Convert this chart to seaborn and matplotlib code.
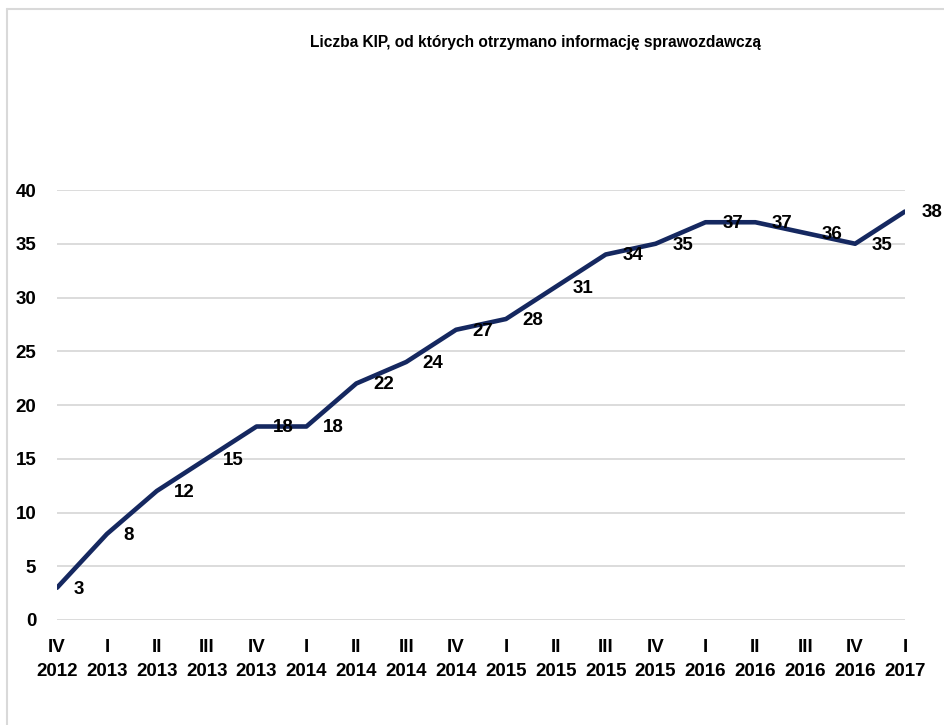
import matplotlib
matplotlib.use("Agg")
import matplotlib.pyplot as plt
import seaborn as sns
import pandas as pd
from matplotlib import font_manager
from matplotlib.lines import Line2D

quarters = ["IV", "I", "II", "III", "IV", "I", "II", "III", "IV", "I", "II", "III", "IV", "I", "II", "III", "IV", "I"]
years = ["2012", "2013", "2013", "2013", "2013", "2014", "2014", "2014", "2014", "2015", "2015", "2015", "2015", "2016", "2016", "2016", "2016", "2017"]
values = [3, 8, 12, 15, 18, 18, 22, 24, 27, 28, 31, 34, 35, 37, 37, 36, 35, 38]
title = "Liczba KIP, od których otrzymano informację sprawozdawczą"

sns.set_theme(style="white")
names = {f.name for f in font_manager.fontManager.ttflist}
fam = "Liberation Sans"
title_fam = "Liberation Sans Narrow" if "Liberation Sans Narrow" in names else "Liberation Sans"
plt.rcParams["font.family"] = [fam, "DejaVu Sans"]

df = pd.DataFrame({"pos": range(len(values)), "value": values,
                   "label": [f"{q}\n{y}" for q, y in zip(quarters, years)]})

fig = plt.figure(figsize=(9.44, 7.25), dpi=100)
ax = fig.add_axes([57/944, 1-620/725, (905-57)/944, (620-190)/725])

color = "#152860"
sns.lineplot(data=df, x="pos", y="value", ax=ax, color=color, linewidth=3.3)

ax.set_xlim(0, len(values)-1)
ax.set_ylim(0, 40)
ax.set_yticks(range(0, 41, 5))
ax.set_xticks(df["pos"])
ax.set_xticklabels(df["label"], linespacing=1.5)
ax.grid(axis="y", color="#D9D9D9", linewidth=1.3)
ax.set_axisbelow(True)
for s in ax.spines.values():
    s.set_visible(False)
ax.tick_params(axis="both", length=0, labelsize=13.5, colors="black")
ax.tick_params(axis="x", pad=14)
ax.tick_params(axis="y", pad=15)
for lab in ax.get_xticklabels() + ax.get_yticklabels():
    lab.set_fontweight("bold")
ax.set_xlabel("")
ax.set_ylabel("")

for x, v in zip(df["pos"], df["value"]):
    ax.annotate(str(v), (x, v), xytext=(12, -1), textcoords="offset points",
                ha="left", va="center", fontsize=13.5, fontweight="bold",
                color="black", annotation_clip=False)

fig.text(535/944, 1-42/725, title, ha="center", va="center", fontsize=11.2,
         fontweight="bold", color="black", family=[title_fam, "DejaVu Sans"])

# chart border (top and left visible)
fig.add_artist(Line2D([7/944, 7/944], [0, 1-9/725], transform=fig.transFigure, color="#D9D9D9", linewidth=1.5))
fig.add_artist(Line2D([7/944, 1], [1-9/725, 1-9/725], transform=fig.transFigure, color="#D9D9D9", linewidth=1.5))

fig.savefig("out.png", dpi=100)
